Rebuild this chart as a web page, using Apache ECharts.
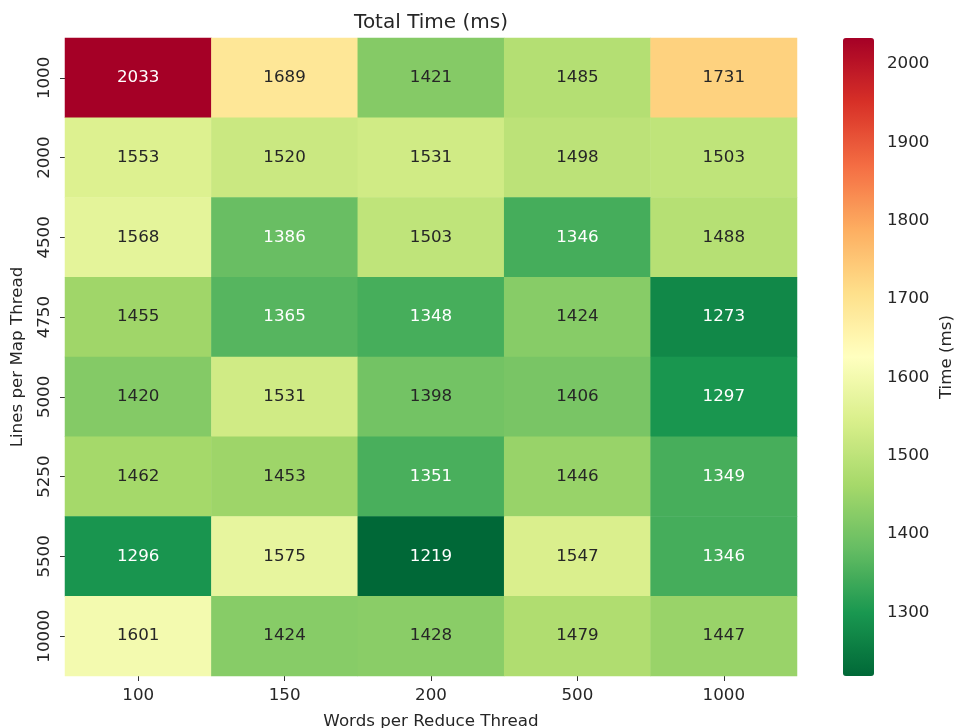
<!DOCTYPE html>
<html>
<head>
<meta charset="utf-8">
<script src="https://cdn.jsdelivr.net/npm/echarts@6/dist/echarts.min.js"></script>
<style>html,body{margin:0;padding:0;background:#fff}#c{width:954px;height:728px}</style>
</head>
<body>
<div id="c"></div>
<script>
var xCategories = ['100', '150', '200', '500', '1000'];
var yCategories = ['1000', '2000', '4500', '4750', '5000', '5250', '5500', '10000'];
var row1000 = [2033, 1689, 1421, 1485, 1731];
var row2000 = [1553, 1520, 1531, 1498, 1503];
var row4500 = [1568, 1386, 1503, 1346, 1488];
var row4750 = [1455, 1365, 1348, 1424, 1273];
var row5000 = [1420, 1531, 1398, 1406, 1297];
var row5250 = [1462, 1453, 1351, 1446, 1349];
var row5500 = [1296, 1575, 1219, 1547, 1346];
var row10000 = [1601, 1424, 1428, 1479, 1447];
var colorbarTicks = [1300, 1400, 1500, 1600, 1700, 1800, 1900, 2000];
var vMin = 1219, vMax = 2033;

var rows = [row1000, row2000, row4500, row4750, row5000, row5250, row5500, row10000];
var FONT = 'DejaVu Sans';
var TXT = '#262626';
var FS = 16.7;
var data = [];
rows.forEach(function (r, yi) {
  r.forEach(function (v, xi) {
    var dark = v < 1390 || v > 1900;
    data.push({ value: [xi, yi, v], label: { color: dark ? '#ffffff' : TXT } });
  });
});
var chart = echarts.init(document.getElementById('c'));
chart.setOption({
  animation: false,
  title: {
    text: 'Total Time (ms)', left: 431, top: 13, textAlign: 'center', padding: 0,
    textStyle: { fontFamily: FONT, fontSize: 20, fontWeight: 'normal', color: TXT }
  },
  grid: [
    { left: 65, top: 38, width: 732, height: 638, outerBoundsMode: 'none', containLabel: false },
    { left: 843, top: 38, width: 31, height: 638, outerBoundsMode: 'none', containLabel: false }
  ],
  xAxis: [{
    type: 'category', data: xCategories, gridIndex: 0,
    name: 'Words per Reduce Thread', nameLocation: 'middle', nameGap: 37,
    nameTextStyle: { fontFamily: FONT, fontSize: FS, color: TXT },
    axisLine: { show: false },
    axisTick: { show: true, alignWithLabel: true, length: 5, lineStyle: { color: '#333' } },
    axisLabel: { fontFamily: FONT, fontSize: FS, color: TXT, margin: 11 },
    splitLine: { show: false }
  }, {
    type: 'value', gridIndex: 1, show: false
  }],
  yAxis: [{
    type: 'category', data: yCategories, gridIndex: 0, inverse: true,
    name: 'Lines per Map Thread', nameLocation: 'middle', nameGap: 39,
    nameTextStyle: { fontFamily: FONT, fontSize: FS, color: TXT },
    axisLine: { show: false },
    axisTick: { show: true, alignWithLabel: true, length: 5, lineStyle: { color: '#333' } },
    axisLabel: { fontFamily: FONT, fontSize: FS, color: TXT, rotate: 90, margin: 12 },
    splitLine: { show: false }
  }, {
    type: 'value', gridIndex: 1, position: 'right', min: vMin, max: vMax,
    name: 'Time (ms)', nameLocation: 'middle', nameGap: 64, nameRotate: 90,
    nameTextStyle: { fontFamily: FONT, fontSize: FS, color: TXT },
    axisLine: { show: false },
    axisTick: { show: true, length: 5, lineStyle: { color: '#333' }, customValues: colorbarTicks },
    axisLabel: {
      fontFamily: FONT, fontSize: FS, color: TXT, margin: 13, customValues: colorbarTicks,
      formatter: function (v) { return String(v); }
    },
    splitLine: { show: false }
  }],
  visualMap: {
    type: 'continuous', min: vMin, max: vMax, seriesIndex: 0,
    calculable: false, show: true, text: null, showLabel: false,
    left: 843, top: 38, itemWidth: 31, itemHeight: 638, padding: 0,
    orient: 'vertical', hoverLink: false,
    inRange: { color: ['#006837', '#1a9850', '#66bd63', '#a6d96a', '#d9ef8b', '#ffffbf', '#fee08b', '#fdae61', '#f46d43', '#d73027', '#a50026'] }
  },
  series: [{
    type: 'heatmap', xAxisIndex: 0, yAxisIndex: 0, data: data,
    itemStyle: { borderWidth: 0 },
    label: {
      show: true, fontFamily: FONT, fontSize: FS, color: TXT,
      formatter: function (p) { return String(p.value[2]); }
    }
  }]
});
</script>
</body>
</html>
